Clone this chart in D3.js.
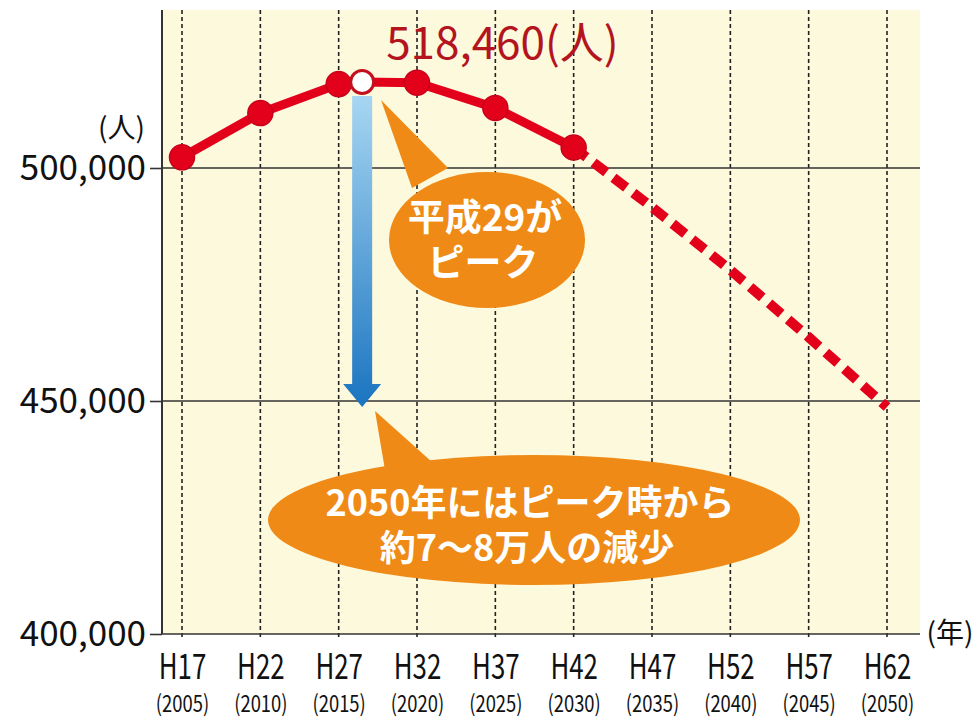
<!DOCTYPE html>
<html><head><meta charset="utf-8">
<script src="https://cdn.jsdelivr.net/npm/d3@7"></script>
<style>body{margin:0;background:#fff;} svg{display:block;}</style>
</head><body><svg id="c" width="980" height="723"></svg>
<script>
// ---- data ----
const years = [2005,2010,2015,2020,2025,2030,2035,2040,2045,2050];
const heiseiLabels = ["H17","H22","H27","H32","H37","H42","H47","H52","H57","H62"];
const actualYears = [2005,2010,2015,2016.5,2020,2025,2030];
const actualValues = [502300,511800,518000,518460,518300,512900,504400];
const projYears = [2030,2035,2040,2045,2050];
const projValues = [504400,491600,478100,463700,448700];
const peakYear = 2016.5;   // 平成29 (as placed in the picture)
const peakValue = 518460;
const yTicks = [400000,450000,500000];

// ---- layout ----
const plot = {left:162, right:920, top:10, bottom:634};
const svg = d3.select("#c");
const x = d3.scaleLinear().domain([2005,2050]).range([182,887]);
const y = d3.scaleLinear().domain([400000,500000]).range([634,168]);
const JP = "'Noto Sans CJK JP','Noto Sans',sans-serif";

// background
svg.append("rect").attr("x",plot.left).attr("y",plot.top)
  .attr("width",plot.right-plot.left).attr("height",plot.bottom-plot.top)
  .attr("fill","#fdf9dc");

// vertical dashed gridlines
svg.append("g").selectAll("line").data(years).join("line")
  .attr("x1",d=>x(d)).attr("x2",d=>x(d))
  .attr("y1",plot.top).attr("y2",plot.bottom+4)
  .attr("stroke","#222").attr("stroke-width",1.6).attr("stroke-dasharray","4,3");

// horizontal gridlines
svg.append("g").selectAll("line").data(yTicks).join("line")
  .attr("x1",plot.left).attr("x2",plot.right)
  .attr("y1",d=>y(d)).attr("y2",d=>y(d))
  .attr("stroke","#333").attr("stroke-width",1.6);

// y axis
const ya = svg.append("g").attr("transform",`translate(${plot.left},0)`)
  .call(d3.axisLeft(y).tickValues(yTicks).tickFormat(d3.format(",")).tickSize(12).tickPadding(4));
ya.select(".domain").remove();
svg.append("line").attr("x1",plot.left).attr("x2",plot.left).attr("y1",plot.top).attr("y2",plot.bottom)
  .attr("stroke","#333").attr("stroke-width",2);
ya.selectAll(".tick line").attr("stroke","#333").attr("stroke-width",1.6);
ya.selectAll(".tick text").attr("font-family",JP).attr("font-size",35).attr("fill","#111");
svg.append("text").attr("x",145).attr("y",138).attr("text-anchor","end")
  .attr("font-family",JP).attr("font-size",28).attr("fill","#111").text("(人)");

// x axis
const xa = svg.append("g").attr("transform",`translate(0,${plot.bottom})`)
  .call(d3.axisBottom(x).tickValues(years).tickSize(0).tickFormat(""));
xa.select(".domain").remove();
xa.selectAll(".tick").each(function(d,i){
  const g = d3.select(this);
  g.append("text").attr("y",45).attr("text-anchor","middle").attr("transform","scale(0.74,1)")
    .attr("font-family",JP).attr("font-size",35).attr("fill","#111").text(heiseiLabels[i]);
  g.append("text").attr("y",78).attr("text-anchor","middle").attr("transform","scale(0.8,1)")
    .attr("font-family",JP).attr("font-size",23).attr("fill","#111").text(`(${d})`);
});
svg.append("text").attr("x",950).attr("y",643).attr("text-anchor","middle")
  .attr("font-family",JP).attr("font-size",28).attr("fill","#111").text("(年)");

// blue arrow (peak down to 2050 level)
const defs = svg.append("defs");
const grad = defs.append("linearGradient").attr("id","bg").attr("x1",0).attr("y1",0).attr("x2",0).attr("y2",1);
grad.append("stop").attr("offset","0%").attr("stop-color","#a7d6f2");
grad.append("stop").attr("offset","100%").attr("stop-color","#1a74c0");
const ax = x(peakYear), aTop = y(peakValue)+14, aTip = y(projValues[projValues.length-1]);
svg.append("path").attr("fill","url(#bg)")
  .attr("d",`M${ax-10},${aTop} L${ax+10},${aTop} L${ax+10},${aTip-23} L${ax+19},${aTip-23} L${ax},${aTip} L${ax-19},${aTip-23} L${ax-10},${aTip-23} Z`);

// lines
const line = d3.line().x(d=>x(d[0])).y(d=>y(d[1]));
const red = "#e3001b";
svg.append("path").datum(d3.zip(projYears,projValues)).attr("d",line)
  .attr("fill","none").attr("stroke",red).attr("stroke-width",10).attr("stroke-dasharray","16,9");
svg.append("path").datum(d3.zip(actualYears,actualValues)).attr("d",line)
  .attr("fill","none").attr("stroke",red).attr("stroke-width",9).attr("stroke-linejoin","round");
svg.append("g").selectAll("circle").data(d3.zip(actualYears,actualValues).filter(d=>d[0]!==peakYear)).join("circle")
  .attr("cx",d=>x(d[0])).attr("cy",d=>y(d[1])).attr("r",12.5)
  .attr("fill",red).attr("stroke","#c8001a").attr("stroke-width",1.5);
svg.append("circle").attr("cx",x(peakYear)).attr("cy",y(peakValue)).attr("r",11.5)
  .attr("fill","#fff").attr("stroke","#c4101c").attr("stroke-width",3);

// peak label
svg.append("text").attr("x",x(peakYear)+24).attr("y",59)
  .attr("font-family",JP).attr("font-size",44).attr("fill","#b3141e")
  .text(d3.format(",")(peakValue)+"(人)");

// callouts
const orange = "#ef8a16";
const c1 = svg.append("g");
c1.append("path").attr("d","M381,100 L448,168 L412,188 Z").attr("fill",orange);
c1.append("ellipse").attr("cx",487).attr("cy",240).attr("rx",98).attr("ry",68).attr("fill",orange);
c1.append("text").attr("x",485).attr("y",231).attr("text-anchor","middle")
  .attr("font-family",JP).attr("font-weight","bold").attr("font-size",37).attr("fill","#fff").text("平成29が");
c1.append("text").attr("x",483).attr("y",276).attr("text-anchor","middle")
  .attr("font-family",JP).attr("font-weight","bold").attr("font-size",37).attr("fill","#fff").text("ピーク");

const c2 = svg.append("g");
c2.append("path").attr("d","M375,411 L432,462 L385,470 Z").attr("fill",orange);
c2.append("ellipse").attr("cx",534).attr("cy",520).attr("rx",266).attr("ry",65).attr("fill",orange);
c2.append("text").attr("x",530).attr("y",516).attr("text-anchor","middle")
  .attr("font-family",JP).attr("font-weight","bold").attr("font-size",36).attr("fill","#fff").text("2050年にはピーク時から");
c2.append("text").attr("x",527).attr("y",561).attr("text-anchor","middle")
  .attr("font-family",JP).attr("font-weight","bold").attr("font-size",36).attr("fill","#fff").text("約7〜8万人の減少");
</script></body></html>
